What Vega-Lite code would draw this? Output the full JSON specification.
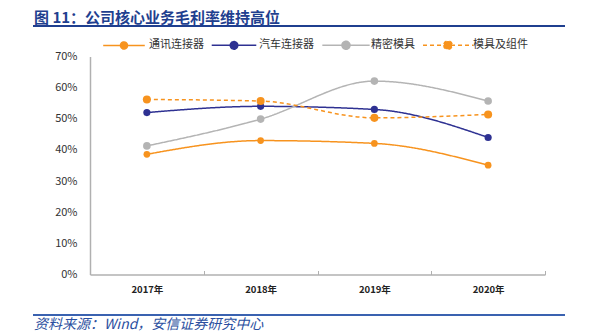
{
  "$schema": "https://vega.github.io/schema/vega-lite/v6.json",
  "padding": {"left": 31, "top": 10, "right": 0, "bottom": 0},
  "background": "white",
  "spacing": 11.5,
  "columns": 1,
  "config": {"font": "Noto Sans CJK SC", "view": {"stroke": null}},
  "datasets": {
    "ln": [{"pos": 0}],
    "ln2": [{"pos": 1}],
    "d": [
      {"s": "通讯连接器", "year": "2017年", "v": 38.6},
      {"s": "通讯连接器", "year": "2018年", "v": 43.0},
      {"s": "通讯连接器", "year": "2019年", "v": 42.1},
      {"s": "通讯连接器", "year": "2020年", "v": 35.1},
      {"s": "汽车连接器", "year": "2017年", "v": 52.0},
      {"s": "汽车连接器", "year": "2018年", "v": 54.0},
      {"s": "汽车连接器", "year": "2019年", "v": 53.0},
      {"s": "汽车连接器", "year": "2020年", "v": 44.0},
      {"s": "精密模具", "year": "2017年", "v": 41.3},
      {"s": "精密模具", "year": "2018年", "v": 49.9},
      {"s": "精密模具", "year": "2019年", "v": 62.1},
      {"s": "精密模具", "year": "2020年", "v": 55.7},
      {"s": "模具及组件", "year": "2017年", "v": 56.2},
      {"s": "模具及组件", "year": "2018年", "v": 55.7},
      {"s": "模具及组件", "year": "2019年", "v": 50.3},
      {"s": "模具及组件", "year": "2020年", "v": 51.4}
    ]
  },
  "concat": [
    {
      "data": {"name": "ln"},
      "width": 532,
      "height": 10,
      "view": {"stroke": "transparent", "fill": "transparent"},
      "title": {"text": "图 11：公司核心业务毛利率维持高位", "anchor": "start", "fontSize": 15, "fontWeight": "bold", "color": "#1F3F8F", "offset": -9.5, "dx": 2},
      "mark": {"type": "rule", "color": "#1F3F8F", "strokeWidth": 2},
      "encoding": {"y": {"field": "pos", "type": "quantitative", "scale": {"domain": [0, 1]}, "axis": null}}
    },
    {
      "name": "main",
      "data": {"name": "d"},
      "width": 512,
      "height": 218,
      "encoding": {
        "x": {
          "field": "year", "type": "ordinal",
          "scale": {"type": "band", "paddingInner": 0, "paddingOuter": 0, "range": [57, 512]},
          "axis": {"title": null, "labelAngle": 0, "tickBand": "extent", "tickSize": -4, "tickColor": "#B0B0B0", "domainColor": "#B0B0B0", "domainWidth": 1.5, "labelFontWeight": "bold", "labelFontSize": 9.5, "labelColor": "#222", "labelPadding": 14, "minExtent": 27}
        },
        "y": {
          "field": "v", "type": "quantitative",
          "scale": {"domain": [0, 70]},
          "axis": {"title": null, "offset": -57, "values": [0, 10, 20, 30, 40, 50, 60, 70], "labelExpr": "datum.value + '%'", "grid": false, "ticks": false, "domainColor": "#B0B0B0", "domainWidth": 1.5, "labelFontSize": 11, "labelColor": "#333", "labelPadding": 13}
        }
      },
      "layer": [
        {
          "mark": {"type": "line", "interpolate": "monotone", "strokeWidth": 1.5},
          "encoding": {
            "color": {
              "field": "s", "type": "nominal",
              "scale": {"domain": ["通讯连接器", "汽车连接器", "精密模具", "模具及组件"], "range": ["#F7931E", "#2E3192", "#B4B4B4", "#F7931E"]},
              "legend": {"orient": "none", "legendX": 85.5, "legendY": -17, "direction": "horizontal", "title": null, "symbolType": "M-6.2,0H6.2M-1.05,0A1.05,1.05,0,1,0,1.05,0A1.05,1.05,0,1,0,-1.05,0Z", "symbolSize": 100, "symbolStrokeWidth": 1.5, "labelFontSize": 11, "labelColor": "#333", "labelOffset": 19.5, "columnPadding": 4,
                "encode": {"symbols": {"update": {"fill": {"signal": "datum.value === '汽车连接器' ? '#2E3192' : datum.value === '精密模具' ? '#B4B4B4' : '#F7931E'"}}}}}
            },
            "strokeDash": {
              "field": "s", "type": "nominal",
              "scale": {"domain": ["通讯连接器", "汽车连接器", "精密模具", "模具及组件"], "range": [[1, 0], [1, 0], [1, 0], [4, 3]]},
              "legend": {"orient": "none", "legendX": 85.5, "legendY": -17, "direction": "horizontal", "title": null, "symbolType": "M-6.2,0H6.2M-1.05,0A1.05,1.05,0,1,0,1.05,0A1.05,1.05,0,1,0,-1.05,0Z", "symbolSize": 100, "symbolStrokeWidth": 1.5, "labelFontSize": 11, "labelColor": "#333", "labelOffset": 19.5, "columnPadding": 4,
                "encode": {"symbols": {"update": {"fill": {"signal": "datum.value === '汽车连接器' ? '#2E3192' : datum.value === '精密模具' ? '#B4B4B4' : '#F7931E'"}}}}}
            }
          }
        },
        {
          "mark": {"type": "point", "filled": true, "opacity": 1},
          "encoding": {
            "color": {"field": "s", "type": "nominal", "legend": null},
            "size": {"field": "s", "type": "nominal", "scale": {"domain": ["通讯连接器", "汽车连接器", "精密模具", "模具及组件"], "range": [45, 65, 45, 45]}, "legend": null}
          }
        }
      ]
    },
    {
      "data": {"name": "ln2"},
      "width": 532,
      "height": 10,
      "view": {"stroke": "transparent", "fill": "transparent"},
      "title": {"text": "资料来源：Wind，安信证券研究中心", "orient": "bottom", "anchor": "start", "fontSize": 14, "fontStyle": "italic", "fontWeight": "normal", "color": "#2B4FA0", "offset": -7.5, "dx": 2},
      "mark": {"type": "rule", "color": "#3A62B0", "strokeWidth": 2},
      "encoding": {"y": {"field": "pos", "type": "quantitative", "scale": {"domain": [0, 1]}, "axis": null}}
    }
  ],
  "resolve": {"scale": {"color": "independent", "strokeDash": "independent", "size": "independent", "y": "independent"}, "legend": {"color": "independent", "strokeDash": "independent"}}
}
